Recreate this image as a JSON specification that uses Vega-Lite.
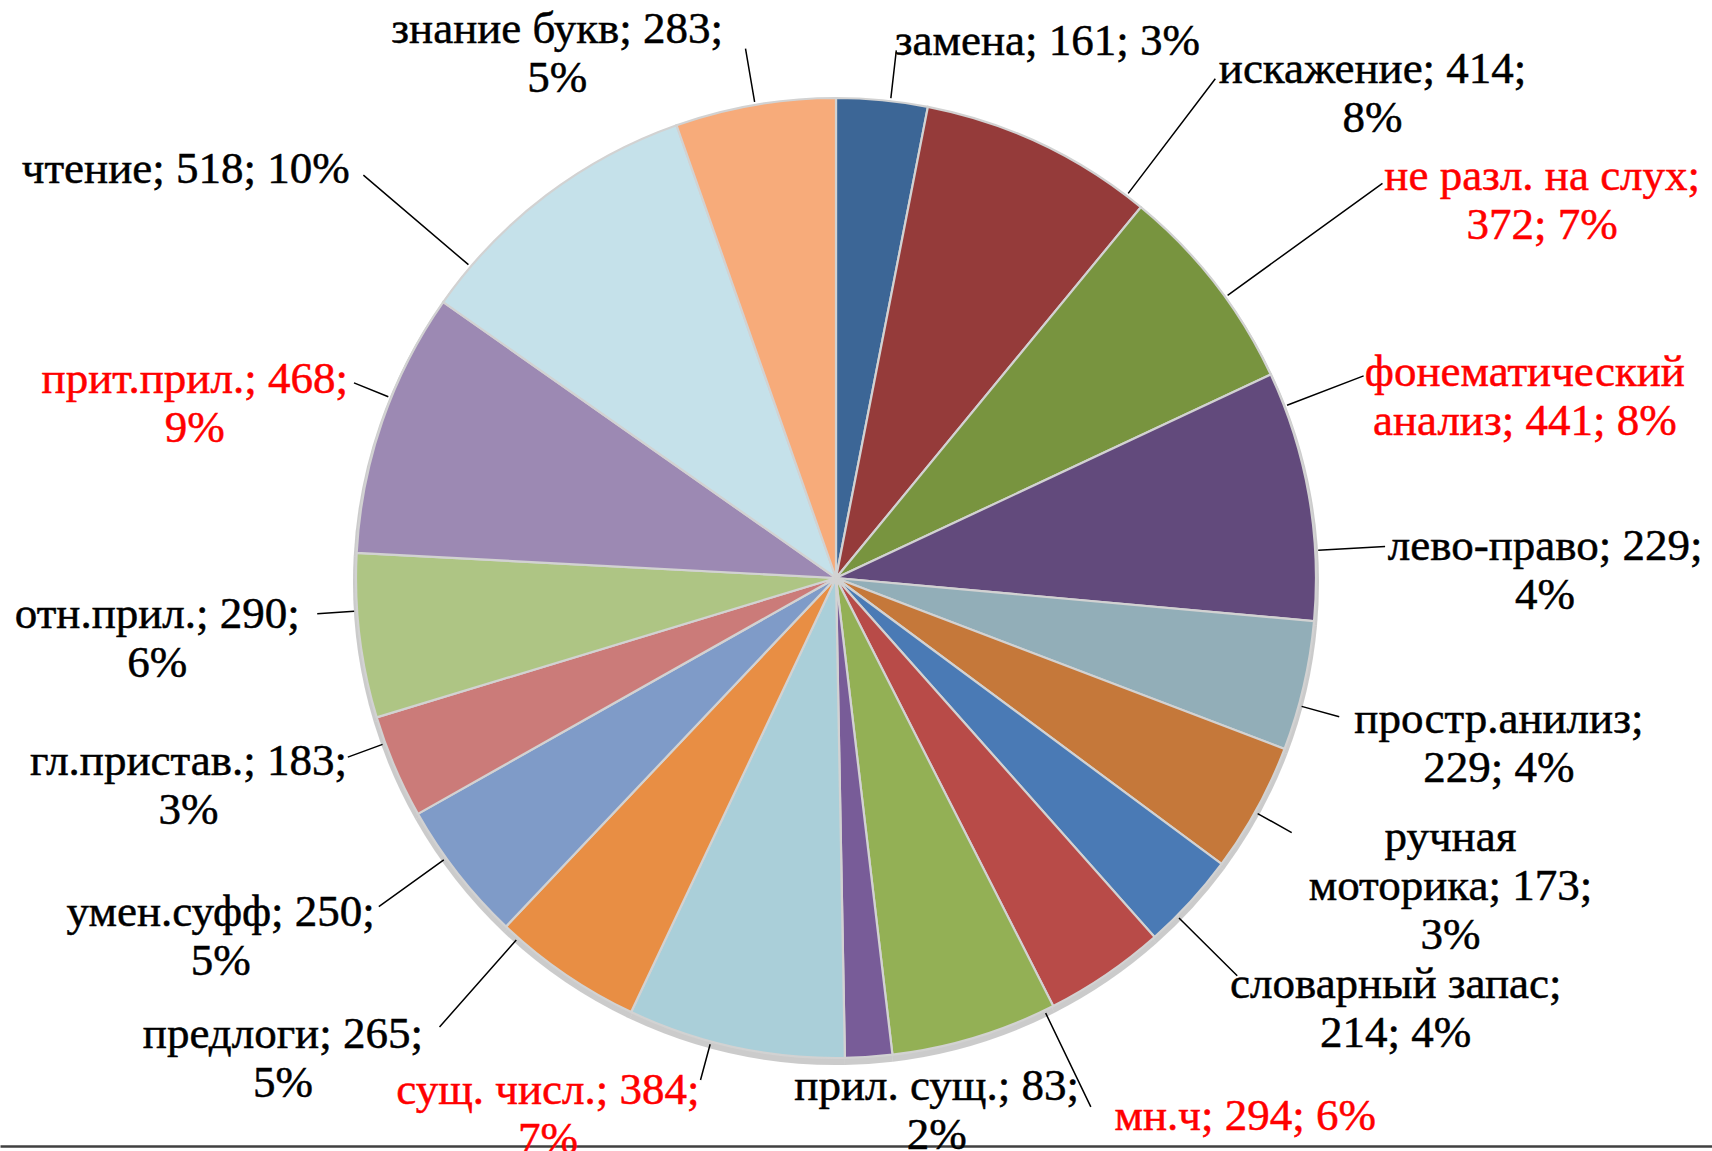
{
  "$schema": "https://vega.github.io/schema/vega-lite/v6.json",
  "autosize": "none",
  "width": 1672,
  "height": 1136,
  "padding": {"left": 0, "top": 10, "right": 40, "bottom": 5},
  "background": "#ffffff",
  "config": {"view": {"stroke": null}},
  "data": {
    "values": [
      {"idx": 1, "cat": "замена", "value": 161, "label": "замена; 161; 3%"},
      {"idx": 2, "cat": "искажение", "value": 414, "label": "искажение; 414;\n8%"},
      {"idx": 3, "cat": "не разл. на слух", "value": 372, "label": "не разл. на слух;\n372; 7%"},
      {"idx": 4, "cat": "фонематический анализ", "value": 441, "label": "фонематический\nанализ; 441; 8%"},
      {"idx": 5, "cat": "лево-право", "value": 229, "label": "лево-право; 229;\n4%"},
      {"idx": 6, "cat": "простр.анилиз", "value": 229, "label": "простр.анилиз;\n229; 4%"},
      {"idx": 7, "cat": "ручная моторика", "value": 173, "label": "ручная\nмоторика; 173;\n3%"},
      {"idx": 8, "cat": "словарный запас", "value": 214, "label": "словарный запас;\n214; 4%"},
      {"idx": 9, "cat": "мн.ч", "value": 294, "label": "мн.ч; 294; 6%"},
      {"idx": 10, "cat": "прил. сущ.", "value": 83, "label": "прил. сущ.; 83;\n2%"},
      {"idx": 11, "cat": "сущ. числ.", "value": 384, "label": "сущ. числ.; 384;\n7%"},
      {"idx": 12, "cat": "предлоги", "value": 265, "label": "предлоги; 265;\n5%"},
      {"idx": 13, "cat": "умен.суфф", "value": 250, "label": "умен.суфф; 250;\n5%"},
      {"idx": 14, "cat": "гл.пристав.", "value": 183, "label": "гл.пристав.; 183;\n3%"},
      {"idx": 15, "cat": "отн.прил.", "value": 290, "label": "отн.прил.; 290;\n6%"},
      {"idx": 16, "cat": "прит.прил.", "value": 468, "label": "прит.прил.; 468;\n9%"},
      {"idx": 17, "cat": "чтение", "value": 518, "label": "чтение; 518; 10%"},
      {"idx": 18, "cat": "знание букв", "value": 283, "label": "знание букв; 283;\n5%"}
    ]
  },
  "layer": [
    {
      "mark": {"type": "arc", "outerRadius": 483, "yOffset": 4, "fill": "#8c8c8c", "opacity": 0.45},
      "encoding": {
        "theta": {"field": "value", "type": "quantitative", "stack": true},
        "order": {"field": "idx", "type": "quantitative"}
      }
    },
    {
      "mark": {"type": "arc", "outerRadius": 480, "stroke": "#D2D2D2", "strokeWidth": 2.2},
      "encoding": {
        "theta": {"field": "value", "type": "quantitative", "stack": true},
        "order": {"field": "idx", "type": "quantitative"},
        "color": {
          "field": "cat", "type": "nominal", "legend": null,
          "scale": {
            "domain": ["замена","искажение","не разл. на слух","фонематический анализ","лево-право","простр.анилиз","ручная моторика","словарный запас","мн.ч","прил. сущ.","сущ. числ.","предлоги","умен.суфф","гл.пристав.","отн.прил.","прит.прил.","чтение","знание букв"],
            "range": ["#3C6696","#953B3A","#78943F","#624A7C","#92AEB8","#C5783A","#4A7AB5","#B84B48","#93B055","#785C98","#AACFD9","#E88E44","#7F9BC8","#CB7B79","#AEC584","#9C89B3","#C5E1EA","#F7AB7A"]
          }
        }
      }
    },
    {
      "mark": {"type": "arc", "innerRadius": 483, "outerRadius": 531, "padAngle": 3, "thetaOffset": 0.0175, "filled": false, "stroke": "#000000", "strokeWidth": 1.5},
      "encoding": {
        "theta": {"field": "value", "type": "quantitative", "stack": true},
        "order": {"field": "idx", "type": "quantitative"},
        "opacity": {"condition": {"test": "indexof(['замена'], datum.cat) >= 0", "value": 1}, "value": 0}
      }
    },
    {
      "mark": {"type": "arc", "innerRadius": 483, "outerRadius": 627, "padAngle": 3, "thetaOffset": 0.2094, "filled": false, "stroke": "#000000", "strokeWidth": 1.5},
      "encoding": {
        "theta": {"field": "value", "type": "quantitative", "stack": true},
        "order": {"field": "idx", "type": "quantitative"},
        "opacity": {"condition": {"test": "indexof(['искажение'], datum.cat) >= 0", "value": 1}, "value": 0}
      }
    },
    {
      "mark": {"type": "arc", "innerRadius": 483, "outerRadius": 674, "padAngle": 3, "thetaOffset": 0.0349, "filled": false, "stroke": "#000000", "strokeWidth": 1.5},
      "encoding": {
        "theta": {"field": "value", "type": "quantitative", "stack": true},
        "order": {"field": "idx", "type": "quantitative"},
        "opacity": {"condition": {"test": "indexof(['не разл. на слух'], datum.cat) >= 0", "value": 1}, "value": 0}
      }
    },
    {
      "mark": {"type": "arc", "innerRadius": 483, "outerRadius": 565, "padAngle": 3, "thetaOffset": -0.1920, "filled": false, "stroke": "#000000", "strokeWidth": 1.5},
      "encoding": {
        "theta": {"field": "value", "type": "quantitative", "stack": true},
        "order": {"field": "idx", "type": "quantitative"},
        "opacity": {"condition": {"test": "indexof(['фонематический анализ','словарный запас'], datum.cat) >= 0", "value": 1}, "value": 0}
      }
    },
    {
      "mark": {"type": "arc", "innerRadius": 483, "outerRadius": 550, "padAngle": 3, "thetaOffset": -0.2845, "filled": false, "stroke": "#000000", "strokeWidth": 1.5},
      "encoding": {
        "theta": {"field": "value", "type": "quantitative", "stack": true},
        "order": {"field": "idx", "type": "quantitative"},
        "opacity": {"condition": {"test": "indexof(['лево-право'], datum.cat) >= 0", "value": 1}, "value": 0}
      }
    },
    {
      "mark": {"type": "arc", "innerRadius": 483, "outerRadius": 522, "padAngle": 3, "thetaOffset": -0.2321, "filled": false, "stroke": "#000000", "strokeWidth": 1.5},
      "encoding": {
        "theta": {"field": "value", "type": "quantitative", "stack": true},
        "order": {"field": "idx", "type": "quantitative"},
        "opacity": {"condition": {"test": "indexof(['простр.анилиз','ручная моторика'], datum.cat) >= 0", "value": 1}, "value": 0}
      }
    },
    {
      "mark": {"type": "arc", "innerRadius": 483, "outerRadius": 587, "padAngle": 3, "thetaOffset": -0.1553, "filled": false, "stroke": "#000000", "strokeWidth": 1.5},
      "encoding": {
        "theta": {"field": "value", "type": "quantitative", "stack": true},
        "order": {"field": "idx", "type": "quantitative"},
        "opacity": {"condition": {"test": "indexof(['мн.ч'], datum.cat) >= 0", "value": 1}, "value": 0}
      }
    },
    {
      "mark": {"type": "arc", "innerRadius": 483, "outerRadius": 520, "padAngle": 3, "thetaOffset": 0.0524, "filled": false, "stroke": "#000000", "strokeWidth": 1.5},
      "encoding": {
        "theta": {"field": "value", "type": "quantitative", "stack": true},
        "order": {"field": "idx", "type": "quantitative"},
        "opacity": {"condition": {"test": "indexof(['сущ. числ.','гл.пристав.','отн.прил.','прит.прил.'], datum.cat) >= 0", "value": 1}, "value": 0}
      }
    },
    {
      "mark": {"type": "arc", "innerRadius": 483, "outerRadius": 563, "padAngle": 3, "thetaOffset": 0.0401, "filled": false, "stroke": "#000000", "strokeWidth": 1.5},
      "encoding": {
        "theta": {"field": "value", "type": "quantitative", "stack": true},
        "order": {"field": "idx", "type": "quantitative"},
        "opacity": {"condition": {"test": "indexof(['умен.суфф'], datum.cat) >= 0", "value": 1}, "value": 0}
      }
    },
    {
      "mark": {"type": "arc", "innerRadius": 483, "outerRadius": 599, "padAngle": 3, "thetaOffset": 0.1239, "filled": false, "stroke": "#000000", "strokeWidth": 1.5},
      "encoding": {
        "theta": {"field": "value", "type": "quantitative", "stack": true},
        "order": {"field": "idx", "type": "quantitative"},
        "opacity": {"condition": {"test": "indexof(['предлоги'], datum.cat) >= 0", "value": 1}, "value": 0}
      }
    },
    {
      "mark": {"type": "arc", "innerRadius": 483, "outerRadius": 621, "padAngle": 3, "thetaOffset": -0.2164, "filled": false, "stroke": "#000000", "strokeWidth": 1.5},
      "encoding": {
        "theta": {"field": "value", "type": "quantitative", "stack": true},
        "order": {"field": "idx", "type": "quantitative"},
        "opacity": {"condition": {"test": "indexof(['чтение'], datum.cat) >= 0", "value": 1}, "value": 0}
      }
    },
    {
      "mark": {"type": "arc", "innerRadius": 483, "outerRadius": 537, "padAngle": 3, "thetaOffset": 0, "filled": false, "stroke": "#000000", "strokeWidth": 1.5},
      "encoding": {
        "theta": {"field": "value", "type": "quantitative", "stack": true},
        "order": {"field": "idx", "type": "quantitative"},
        "opacity": {"condition": {"test": "indexof(['знание букв'], datum.cat) >= 0", "value": 1}, "value": 0}
      }
    },
    {
      "mark": {"type": "text", "font": "Liberation Serif", "fontSize": 45, "lineHeight": 49, "lineBreak": "\n", "align": "center", "baseline": "middle", "strokeWidth": 0.5, "radius": 541, "thetaOffset": 0.0175, "dx": 150},
      "encoding": {
        "theta": {"field": "value", "type": "quantitative", "stack": true},
        "order": {"field": "idx", "type": "quantitative"},
        "text": {"condition": {"test": "indexof(['замена'], datum.cat) >= 0", "field": "label", "type": "nominal"}, "value": ""},
        "color": {"condition": {"test": "indexof(['не разл. на слух','фонематический анализ','мн.ч','сущ. числ.','прит.прил.'], datum.cat) >= 0", "value": "#FF0000"}, "value": "#000000"},
        "stroke": {"condition": {"test": "indexof(['не разл. на слух','фонематический анализ','мн.ч','сущ. числ.','прит.прил.'], datum.cat) >= 0", "value": "#FF0000"}, "value": "#000000"}
      }
    },
    {
      "mark": {"type": "text", "font": "Liberation Serif", "fontSize": 45, "lineHeight": 49, "lineBreak": "\n", "align": "center", "baseline": "middle", "strokeWidth": 0.5, "radius": 639, "thetaOffset": 0.2094, "dx": 150},
      "encoding": {
        "theta": {"field": "value", "type": "quantitative", "stack": true},
        "order": {"field": "idx", "type": "quantitative"},
        "text": {"condition": {"test": "indexof(['искажение'], datum.cat) >= 0", "field": "label", "type": "nominal"}, "value": ""},
        "color": {"condition": {"test": "indexof(['не разл. на слух','фонематический анализ','мн.ч','сущ. числ.','прит.прил.'], datum.cat) >= 0", "value": "#FF0000"}, "value": "#000000"},
        "stroke": {"condition": {"test": "indexof(['не разл. на слух','фонематический анализ','мн.ч','сущ. числ.','прит.прил.'], datum.cat) >= 0", "value": "#FF0000"}, "value": "#000000"}
      }
    },
    {
      "mark": {"type": "text", "font": "Liberation Serif", "fontSize": 45, "lineHeight": 49, "lineBreak": "\n", "align": "center", "baseline": "middle", "strokeWidth": 0.5, "radius": 686, "thetaOffset": 0.0349, "dx": 150},
      "encoding": {
        "theta": {"field": "value", "type": "quantitative", "stack": true},
        "order": {"field": "idx", "type": "quantitative"},
        "text": {"condition": {"test": "indexof(['не разл. на слух'], datum.cat) >= 0", "field": "label", "type": "nominal"}, "value": ""},
        "color": {"condition": {"test": "indexof(['не разл. на слух','фонематический анализ','мн.ч','сущ. числ.','прит.прил.'], datum.cat) >= 0", "value": "#FF0000"}, "value": "#000000"},
        "stroke": {"condition": {"test": "indexof(['не разл. на слух','фонематический анализ','мн.ч','сущ. числ.','прит.прил.'], datum.cat) >= 0", "value": "#FF0000"}, "value": "#000000"}
      }
    },
    {
      "mark": {"type": "text", "font": "Liberation Serif", "fontSize": 45, "lineHeight": 49, "lineBreak": "\n", "align": "center", "baseline": "middle", "strokeWidth": 0.5, "radius": 577, "thetaOffset": -0.1920, "dx": 150},
      "encoding": {
        "theta": {"field": "value", "type": "quantitative", "stack": true},
        "order": {"field": "idx", "type": "quantitative"},
        "text": {"condition": {"test": "indexof(['фонематический анализ','словарный запас'], datum.cat) >= 0", "field": "label", "type": "nominal"}, "value": ""},
        "color": {"condition": {"test": "indexof(['не разл. на слух','фонематический анализ','мн.ч','сущ. числ.','прит.прил.'], datum.cat) >= 0", "value": "#FF0000"}, "value": "#000000"},
        "stroke": {"condition": {"test": "indexof(['не разл. на слух','фонематический анализ','мн.ч','сущ. числ.','прит.прил.'], datum.cat) >= 0", "value": "#FF0000"}, "value": "#000000"}
      }
    },
    {
      "mark": {"type": "text", "font": "Liberation Serif", "fontSize": 45, "lineHeight": 49, "lineBreak": "\n", "align": "center", "baseline": "middle", "strokeWidth": 0.5, "radius": 560, "thetaOffset": -0.2845, "dx": 150},
      "encoding": {
        "theta": {"field": "value", "type": "quantitative", "stack": true},
        "order": {"field": "idx", "type": "quantitative"},
        "text": {"condition": {"test": "indexof(['лево-право'], datum.cat) >= 0", "field": "label", "type": "nominal"}, "value": ""},
        "color": {"condition": {"test": "indexof(['не разл. на слух','фонематический анализ','мн.ч','сущ. числ.','прит.прил.'], datum.cat) >= 0", "value": "#FF0000"}, "value": "#000000"},
        "stroke": {"condition": {"test": "indexof(['не разл. на слух','фонематический анализ','мн.ч','сущ. числ.','прит.прил.'], datum.cat) >= 0", "value": "#FF0000"}, "value": "#000000"}
      }
    },
    {
      "mark": {"type": "text", "font": "Liberation Serif", "fontSize": 45, "lineHeight": 49, "lineBreak": "\n", "align": "center", "baseline": "middle", "strokeWidth": 0.5, "radius": 532, "thetaOffset": -0.2321, "dx": 150},
      "encoding": {
        "theta": {"field": "value", "type": "quantitative", "stack": true},
        "order": {"field": "idx", "type": "quantitative"},
        "text": {"condition": {"test": "indexof(['простр.анилиз','ручная моторика'], datum.cat) >= 0", "field": "label", "type": "nominal"}, "value": ""},
        "color": {"condition": {"test": "indexof(['не разл. на слух','фонематический анализ','мн.ч','сущ. числ.','прит.прил.'], datum.cat) >= 0", "value": "#FF0000"}, "value": "#000000"},
        "stroke": {"condition": {"test": "indexof(['не разл. на слух','фонематический анализ','мн.ч','сущ. числ.','прит.прил.'], datum.cat) >= 0", "value": "#FF0000"}, "value": "#000000"}
      }
    },
    {
      "mark": {"type": "text", "font": "Liberation Serif", "fontSize": 45, "lineHeight": 49, "lineBreak": "\n", "align": "center", "baseline": "middle", "strokeWidth": 0.5, "radius": 597, "thetaOffset": -0.1553, "dx": 150},
      "encoding": {
        "theta": {"field": "value", "type": "quantitative", "stack": true},
        "order": {"field": "idx", "type": "quantitative"},
        "text": {"condition": {"test": "indexof(['мн.ч'], datum.cat) >= 0", "field": "label", "type": "nominal"}, "value": ""},
        "color": {"condition": {"test": "indexof(['не разл. на слух','фонематический анализ','мн.ч','сущ. числ.','прит.прил.'], datum.cat) >= 0", "value": "#FF0000"}, "value": "#000000"},
        "stroke": {"condition": {"test": "indexof(['не разл. на слух','фонематический анализ','мн.ч','сущ. числ.','прит.прил.'], datum.cat) >= 0", "value": "#FF0000"}, "value": "#000000"}
      }
    },
    {
      "mark": {"type": "text", "font": "Liberation Serif", "fontSize": 45, "lineHeight": 49, "lineBreak": "\n", "align": "center", "baseline": "middle", "strokeWidth": 0.5, "radius": 518, "thetaOffset": -0.1274, "dx": 0},
      "encoding": {
        "theta": {"field": "value", "type": "quantitative", "stack": true},
        "order": {"field": "idx", "type": "quantitative"},
        "text": {"condition": {"test": "indexof(['прил. сущ.'], datum.cat) >= 0", "field": "label", "type": "nominal"}, "value": ""},
        "color": {"condition": {"test": "indexof(['не разл. на слух','фонематический анализ','мн.ч','сущ. числ.','прит.прил.'], datum.cat) >= 0", "value": "#FF0000"}, "value": "#000000"},
        "stroke": {"condition": {"test": "indexof(['не разл. на слух','фонематический анализ','мн.ч','сущ. числ.','прит.прил.'], datum.cat) >= 0", "value": "#FF0000"}, "value": "#000000"}
      }
    },
    {
      "mark": {"type": "text", "font": "Liberation Serif", "fontSize": 45, "lineHeight": 49, "lineBreak": "\n", "align": "center", "baseline": "middle", "strokeWidth": 0.5, "radius": 530, "thetaOffset": 0.0524, "dx": -150},
      "encoding": {
        "theta": {"field": "value", "type": "quantitative", "stack": true},
        "order": {"field": "idx", "type": "quantitative"},
        "text": {"condition": {"test": "indexof(['сущ. числ.','гл.пристав.','отн.прил.','прит.прил.'], datum.cat) >= 0", "field": "label", "type": "nominal"}, "value": ""},
        "color": {"condition": {"test": "indexof(['не разл. на слух','фонематический анализ','мн.ч','сущ. числ.','прит.прил.'], datum.cat) >= 0", "value": "#FF0000"}, "value": "#000000"},
        "stroke": {"condition": {"test": "indexof(['не разл. на слух','фонематический анализ','мн.ч','сущ. числ.','прит.прил.'], datum.cat) >= 0", "value": "#FF0000"}, "value": "#000000"}
      }
    },
    {
      "mark": {"type": "text", "font": "Liberation Serif", "fontSize": 45, "lineHeight": 49, "lineBreak": "\n", "align": "center", "baseline": "middle", "strokeWidth": 0.5, "radius": 573, "thetaOffset": 0.0401, "dx": -150},
      "encoding": {
        "theta": {"field": "value", "type": "quantitative", "stack": true},
        "order": {"field": "idx", "type": "quantitative"},
        "text": {"condition": {"test": "indexof(['умен.суфф'], datum.cat) >= 0", "field": "label", "type": "nominal"}, "value": ""},
        "color": {"condition": {"test": "indexof(['не разл. на слух','фонематический анализ','мн.ч','сущ. числ.','прит.прил.'], datum.cat) >= 0", "value": "#FF0000"}, "value": "#000000"},
        "stroke": {"condition": {"test": "indexof(['не разл. на слух','фонематический анализ','мн.ч','сущ. числ.','прит.прил.'], datum.cat) >= 0", "value": "#FF0000"}, "value": "#000000"}
      }
    },
    {
      "mark": {"type": "text", "font": "Liberation Serif", "fontSize": 45, "lineHeight": 49, "lineBreak": "\n", "align": "center", "baseline": "middle", "strokeWidth": 0.5, "radius": 609, "thetaOffset": 0.1239, "dx": -150},
      "encoding": {
        "theta": {"field": "value", "type": "quantitative", "stack": true},
        "order": {"field": "idx", "type": "quantitative"},
        "text": {"condition": {"test": "indexof(['предлоги'], datum.cat) >= 0", "field": "label", "type": "nominal"}, "value": ""},
        "color": {"condition": {"test": "indexof(['не разл. на слух','фонематический анализ','мн.ч','сущ. числ.','прит.прил.'], datum.cat) >= 0", "value": "#FF0000"}, "value": "#000000"},
        "stroke": {"condition": {"test": "indexof(['не разл. на слух','фонематический анализ','мн.ч','сущ. числ.','прит.прил.'], datum.cat) >= 0", "value": "#FF0000"}, "value": "#000000"}
      }
    },
    {
      "mark": {"type": "text", "font": "Liberation Serif", "fontSize": 45, "lineHeight": 49, "lineBreak": "\n", "align": "center", "baseline": "middle", "strokeWidth": 0.5, "radius": 631, "thetaOffset": -0.2164, "dx": -170},
      "encoding": {
        "theta": {"field": "value", "type": "quantitative", "stack": true},
        "order": {"field": "idx", "type": "quantitative"},
        "text": {"condition": {"test": "indexof(['чтение'], datum.cat) >= 0", "field": "label", "type": "nominal"}, "value": ""},
        "color": {"condition": {"test": "indexof(['не разл. на слух','фонематический анализ','мн.ч','сущ. числ.','прит.прил.'], datum.cat) >= 0", "value": "#FF0000"}, "value": "#000000"},
        "stroke": {"condition": {"test": "indexof(['не разл. на слух','фонематический анализ','мн.ч','сущ. числ.','прит.прил.'], datum.cat) >= 0", "value": "#FF0000"}, "value": "#000000"}
      }
    },
    {
      "mark": {"type": "text", "font": "Liberation Serif", "fontSize": 45, "lineHeight": 49, "lineBreak": "\n", "align": "center", "baseline": "middle", "strokeWidth": 0.5, "radius": 563, "thetaOffset": -0.0524, "dx": -155},
      "encoding": {
        "theta": {"field": "value", "type": "quantitative", "stack": true},
        "order": {"field": "idx", "type": "quantitative"},
        "text": {"condition": {"test": "indexof(['знание букв'], datum.cat) >= 0", "field": "label", "type": "nominal"}, "value": ""},
        "color": {"condition": {"test": "indexof(['не разл. на слух','фонематический анализ','мн.ч','сущ. числ.','прит.прил.'], datum.cat) >= 0", "value": "#FF0000"}, "value": "#000000"},
        "stroke": {"condition": {"test": "indexof(['не разл. на слух','фонематический анализ','мн.ч','сущ. числ.','прит.прил.'], datum.cat) >= 0", "value": "#FF0000"}, "value": "#000000"}
      }
    },
    {
      "mark": {"type": "tick", "opacity": 0},
      "encoding": {
        "x": {
          "field": "value", "type": "quantitative",
          "scale": {"range": [0, 1712]},
          "axis": {"domain": true, "domainColor": "#404040", "domainWidth": 2.5, "labels": false, "ticks": false, "grid": false, "title": null, "minExtent": 0, "maxExtent": 0}
        }
      }
    }
  ]
}
